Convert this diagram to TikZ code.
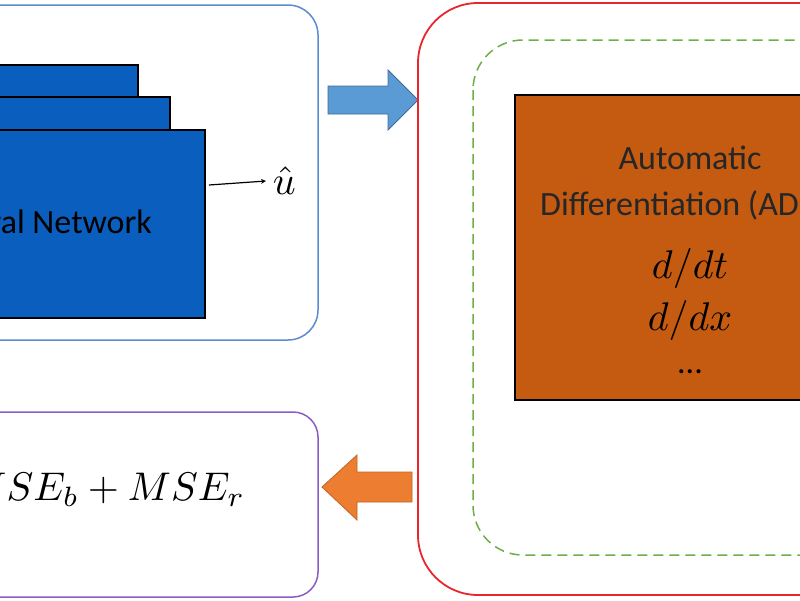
\documentclass[tikz,border=0pt]{standalone}
\usepackage{fontspec}
\setmainfont{Carlito}
\definecolor{bblue}{HTML}{5B8BD0}
\definecolor{nnblue}{HTML}{0A5EBD}
\definecolor{rred}{HTML}{E8262B}
\definecolor{ggreen}{HTML}{70AD47}
\definecolor{oorange}{HTML}{C55A11}
\definecolor{ppurple}{HTML}{8A5CC7}
\definecolor{arrblue}{HTML}{5B9BD5}
\definecolor{arror}{HTML}{ED7D31}
\begin{document}
\begin{tikzpicture}[x=1pt,y=-1pt,
  nn/.style={draw=black,line width=1.2pt,fill=nnblue},
  txt/.style={inner sep=0pt,font=\fontsize{34}{40}\selectfont},
  mth/.style={inner sep=0pt,scale=4,transform shape}]
\useasboundingbox (0,0) rectangle (800,600);
\clip (0,0) rectangle (800,600);
\fill[white] (0,0) rectangle (800,600);
% NN box
\draw[bblue,line width=1.5pt,rounded corners=30pt] (-60,5) rectangle (318,340);
\draw[nn] (-60,65) rectangle (138,300);
\draw[nn] (-60,97) rectangle (170,305);
\draw[nn] (-60,130) rectangle (205,318);
\node[txt,anchor=east] (nt) at (152,222) {Neural Network};
\coordinate (o) at (209,185);
\node[mth,anchor=west] (u) at (272,181) {$\hat{u}$};
\draw[-stealth,line width=1.2pt] (o) -- ([xshift=-6pt]u.west);
% blue arrow
\draw[draw=arrblue!70!black,fill=arrblue,line width=0.8pt]
  (328,86) -- (388,86) -- (388,70) -- (418,100) -- (388,130) -- (388,114) -- (328,114) -- cycle;
% red box
\draw[rred,line width=1.8pt,rounded corners=60pt] (418,3) rectangle (900,595);
\draw[ggreen,line width=1.5pt,dash pattern=on 10pt off 6pt,rounded corners=50pt] (473,40) rectangle (880,555);
\draw[draw=black,line width=1.2pt,fill=oorange] (515,95) rectangle (900,400);
\node[txt,text=black!85] (ad1) at (690,158) {Automatic};
\node[txt,text=black!85,anchor=west] (ad2) at (540,205) {Differentiation (AD)};
\node[mth] (d1) at (690,268) {$d/dt$};
\node[mth] (d2) at (690,320) {$d/dx$};
\node[txt] (d3) at (690,372) {...};
% purple box
\draw[ppurple,line width=1.5pt,rounded corners=25pt] (-60,412) rectangle (318,597);
\node[mth,anchor=east] (mse) at (246,490) {$MSE_u+MSE_b+MSE_r$};
% orange arrow
\draw[draw=arror!80!black,fill=arror,line width=0.8pt]
  (412,472) -- (357,472) -- (357,455) -- (322,487) -- (357,520) -- (357,502) -- (412,502) -- cycle;
\end{tikzpicture}
\end{document}
